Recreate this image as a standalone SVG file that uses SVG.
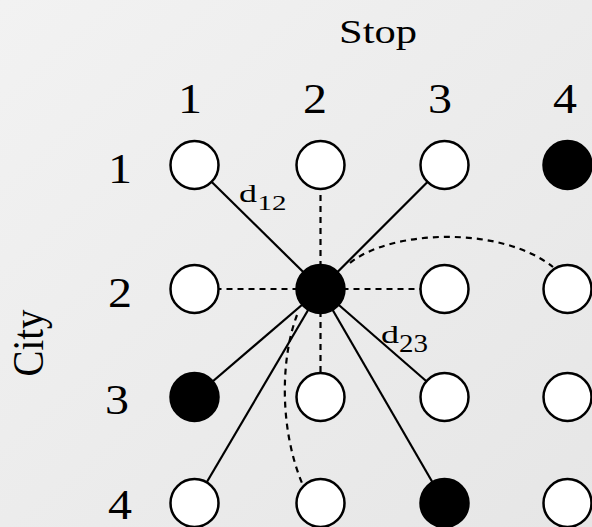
<svg xmlns="http://www.w3.org/2000/svg" width="592" height="527" viewBox="0 0 592 527">
  <defs>
    <linearGradient id="bg" x1="0" y1="0" x2="1" y2="1">
      <stop offset="0" stop-color="#f2f2f2"/>
      <stop offset="0.5" stop-color="#ececec"/>
      <stop offset="1" stop-color="#e6e6e6"/>
    </linearGradient>
  </defs>
  <style>
    .lbl { font-family: "Liberation Serif", "Times New Roman", serif; fill: #000; }
    .big { font-size: 42px; }
    .solid { stroke: #000; stroke-width: 2.2; fill: none; }
    .dash { stroke: #000; stroke-width: 2.2; fill: none; stroke-dasharray: 6 5; }
    .open { fill: #fff; stroke: #000; stroke-width: 2.5; }
    .full { fill: #000; stroke: #000; stroke-width: 2.5; }
  </style>
  <rect x="0" y="0" width="592" height="527" fill="url(#bg)"/>

  <g id="axis-labels">
    <text class="lbl" x="378" y="43" font-size="34" textLength="78" lengthAdjust="spacingAndGlyphs" text-anchor="middle">Stop</text>
    <text class="lbl" font-size="39" transform="translate(43,343) rotate(-90) scale(1,1.15)" text-anchor="middle">City</text>
    <text class="lbl big" x="190" y="113" textLength="24" lengthAdjust="spacingAndGlyphs" text-anchor="middle">1</text>
    <text class="lbl big" x="315" y="113" textLength="24" lengthAdjust="spacingAndGlyphs" text-anchor="middle">2</text>
    <text class="lbl big" x="440" y="113" textLength="24" lengthAdjust="spacingAndGlyphs" text-anchor="middle">3</text>
    <text class="lbl big" x="565" y="113" textLength="24" lengthAdjust="spacingAndGlyphs" text-anchor="middle">4</text>
    <text class="lbl big" x="120" y="183" textLength="24" lengthAdjust="spacingAndGlyphs" text-anchor="middle">1</text>
    <text class="lbl big" x="120" y="307" textLength="24" lengthAdjust="spacingAndGlyphs" text-anchor="middle">2</text>
    <text class="lbl big" x="117" y="414" textLength="24" lengthAdjust="spacingAndGlyphs" text-anchor="middle">3</text>
    <text class="lbl big" x="120" y="519" textLength="24" lengthAdjust="spacingAndGlyphs" text-anchor="middle">4</text>
  </g>

  <g id="connectors">
    <line class="solid" x1="320.5" y1="289" x2="194.5" y2="165"/>
    <line class="solid" x1="320.5" y1="289" x2="444.5" y2="165"/>
    <line class="solid" x1="320.5" y1="289" x2="194.5" y2="397"/>
    <line class="solid" x1="320.5" y1="289" x2="194.5" y2="503"/>
    <line class="solid" x1="320.5" y1="289" x2="444.5" y2="397"/>
    <line class="solid" x1="320.5" y1="289" x2="444.5" y2="503"/>
    <line class="dash" x1="320.5" y1="289" x2="320.5" y2="165"/>
    <line class="dash" x1="320.5" y1="289" x2="194.5" y2="289"/>
    <line class="dash" x1="320.5" y1="289" x2="444.5" y2="289"/>
    <line class="dash" x1="320.5" y1="289" x2="320.5" y2="397"/>
    <path class="dash" d="M350,263 C390,230 500,225 553,267"/>
    <path class="dash" d="M297,315 C280,360 280,430 302,483"/>
  </g>

  <g id="edge-labels">
    <text class="lbl" font-size="26" x="239" y="202" textLength="18" lengthAdjust="spacingAndGlyphs">d</text>
    <text class="lbl" font-size="22" x="257.5" y="210" textLength="29" lengthAdjust="spacingAndGlyphs">12</text>
    <text class="lbl" font-size="25" x="381" y="343" textLength="18" lengthAdjust="spacingAndGlyphs">d</text>
    <text class="lbl" font-size="26" x="399" y="352" textLength="29" lengthAdjust="spacingAndGlyphs">23</text>
  </g>

  <g id="n11"><circle class="open" cx="194.5" cy="165" r="24"/></g>
  <g id="n12"><circle class="open" cx="320.5" cy="165" r="24"/></g>
  <g id="n13"><circle class="open" cx="444.5" cy="165" r="24"/></g>
  <g id="n14"><circle class="full" cx="567.5" cy="165" r="24"/></g>
  <g id="n21"><circle class="open" cx="194.5" cy="289" r="24"/></g>
  <g id="n22"><circle class="full" cx="320.5" cy="289" r="24"/></g>
  <g id="n23"><circle class="open" cx="444.5" cy="289" r="24"/></g>
  <g id="n24"><circle class="open" cx="567.5" cy="289" r="24"/></g>
  <g id="n31"><circle class="full" cx="194.5" cy="397" r="24"/></g>
  <g id="n32"><circle class="open" cx="320.5" cy="397" r="24"/></g>
  <g id="n33"><circle class="open" cx="444.5" cy="397" r="24"/></g>
  <g id="n34"><circle class="open" cx="567.5" cy="397" r="24"/></g>
  <g id="n41"><circle class="open" cx="194.5" cy="503" r="24"/></g>
  <g id="n42"><circle class="open" cx="320.5" cy="503" r="24"/></g>
  <g id="n43"><circle class="full" cx="444.5" cy="503" r="24"/></g>
  <g id="n44"><circle class="open" cx="567.5" cy="503" r="24"/></g>
</svg>
